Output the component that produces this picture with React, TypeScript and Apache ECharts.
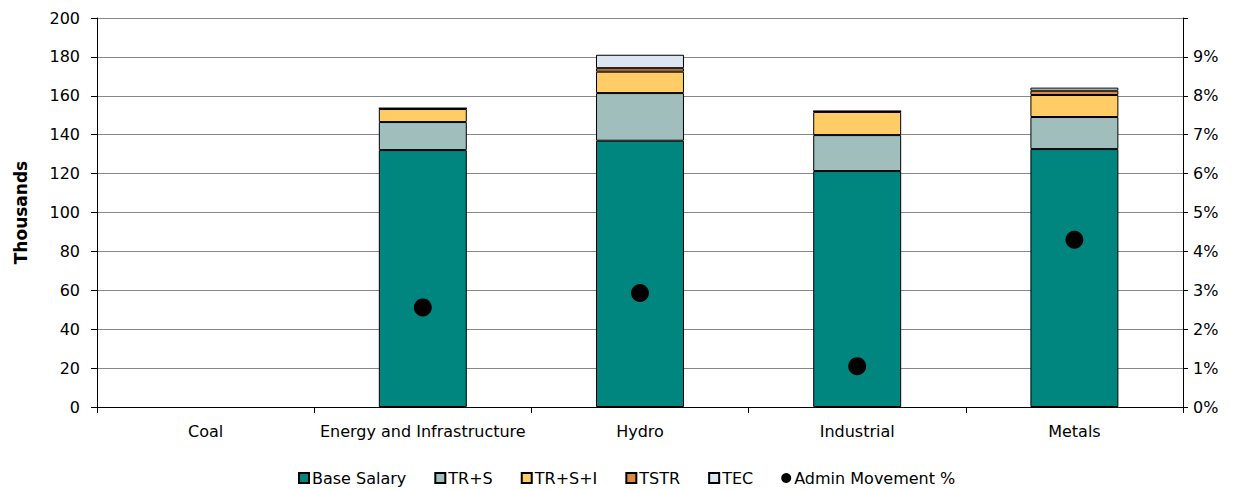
import React, { useEffect, useRef } from "react";
import * as echarts from "echarts";

const categories = ["Coal", "Energy and Infrastructure", "Hydro", "Industrial", "Metals"];
const baseSalary = [null, 132.1, 136.9, 121.3, 132.6];
const trS = [null, 14.4, 24.5, 18.5, 16.5];
const trSI = [null, 6.7, 11.0, 11.9, 11.3];
const tstr = [null, 0.4, 1.8, 0.4, 2.2];
const tec = [null, 0, 6.9, 0, 1.6];
const adminMovement = [null, 0.0256, 0.0293, 0.0105, 0.043];
const leftTicks = [0, 20, 40, 60, 80, 100, 120, 140, 160, 180, 200];

const FONT = "'DejaVu Sans', sans-serif";

export default function App() {
  const ref = useRef<HTMLDivElement>(null);
  useEffect(() => {
    if (!ref.current) return;
    const chart = echarts.init(ref.current, null, { renderer: "svg" });
    const mkBar = (name: string, data: (number | null)[], color: string) => ({
      name,
      type: "bar",
      stack: "total",
      data,
      barWidth: "40.5%",
      itemStyle: { color, borderColor: "#000", borderWidth: 1 },
      yAxisIndex: 0,
    });
    chart.setOption({
      animation: false,
      textStyle: { fontFamily: FONT },
      grid: { left: 97, right: 62, top: 18, bottom: 83, containLabel: false },
      legend: {
        top: 465,
        left: 293,
        itemWidth: 10,
        itemHeight: 10,
        itemGap: 28,
        textStyle: { fontFamily: FONT, fontSize: 16, color: "#000", padding: [0, 0, 0, -2] },
        data: [
          { name: "Base Salary", icon: "rect" },
          { name: "TR+S", icon: "rect" },
          { name: "TR+S+I", icon: "rect" },
          { name: "TSTR", icon: "rect" },
          { name: "TEC", icon: "rect" },
          { name: "Admin Movement %", icon: "circle", itemStyle: { borderWidth: 0 } },
        ],
      },
      xAxis: {
        type: "category",
        data: categories,
        axisLine: { lineStyle: { color: "#000", width: 1 } },
        axisTick: { show: true, interval: 0, length: 6, lineStyle: { color: "#000" } },
        axisLabel: { interval: 0, fontFamily: FONT, fontSize: 16, color: "#000", margin: 16 },
      },
      yAxis: [
        {
          type: "value",
          min: leftTicks[0],
          max: leftTicks[leftTicks.length - 1],
          interval: 20,
          name: "Thousands",
          nameLocation: "middle",
          nameGap: 68,
          nameRotate: 90,
          nameTextStyle: { fontFamily: FONT, fontSize: 17, fontWeight: "bold", color: "#000" },
          axisLine: { show: true, lineStyle: { color: "#000" } },
          axisTick: { show: true, length: 6, lineStyle: { color: "#000" } },
          axisLabel: { fontFamily: FONT, fontSize: 16, color: "#000", margin: 17 },
          splitLine: { show: true, lineStyle: { color: "#888", width: 1 } },
        },
        {
          type: "value",
          min: 0,
          max: 0.1,
          interval: 0.01,
          position: "right",
          axisLine: { show: true, lineStyle: { color: "#000" } },
          axisTick: { show: true, length: 5, lineStyle: { color: "#000" } },
          axisLabel: {
            fontFamily: FONT,
            fontSize: 16,
            color: "#000",
            margin: 10,
            formatter: (v: number) => {
              const p = Math.round(v * 100);
              return p >= 10 ? "" : p + "%";
            },
          },
          splitLine: { show: false },
        },
      ],
      series: [
        mkBar("Base Salary", baseSalary, "#00857F"),
        mkBar("TR+S", trS, "#9FBEBC"),
        mkBar("TR+S+I", trSI, "#FFCC66"),
        mkBar("TSTR", tstr, "#DD8844"),
        mkBar("TEC", tec, "#DCE6F2"),
        {
          name: "Admin Movement %",
          type: "scatter",
          yAxisIndex: 1,
          data: adminMovement,
          symbol: "circle",
          symbolSize: 18,
          itemStyle: { color: "#000", opacity: 1 },
          z: 5,
        },
      ],
    });
    return () => chart.dispose();
  }, []);
  return (
    <div
      ref={ref}
      style={{ position: "fixed", left: 0, top: 0, width: 1245, height: 490, background: "#fff" }}
    />
  );
}
